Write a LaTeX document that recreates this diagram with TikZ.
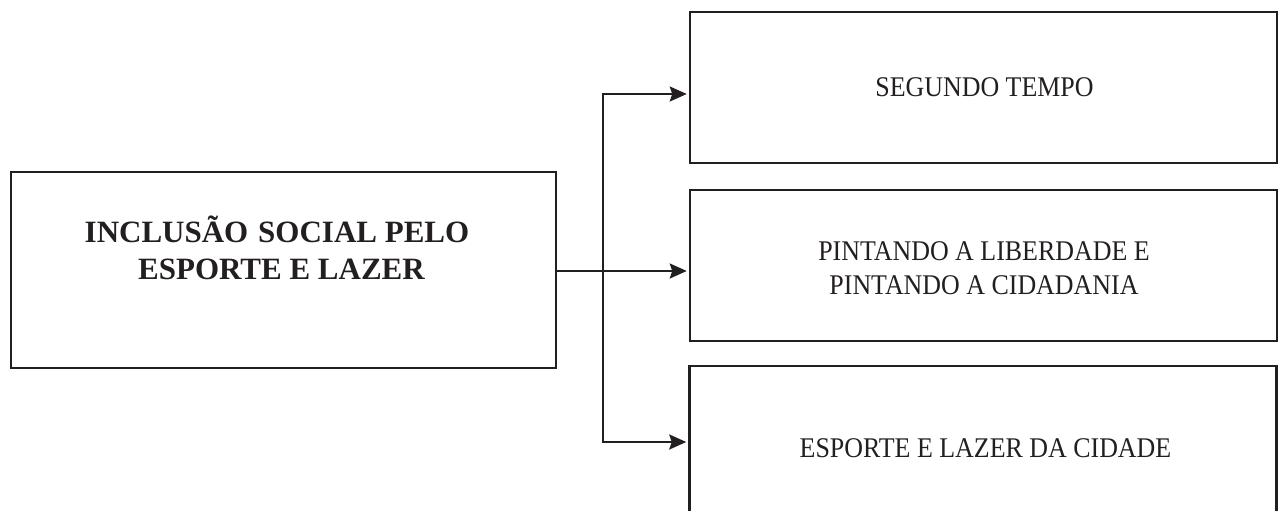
\documentclass[tikz,border=0pt]{standalone}
\usepackage{fontspec}
\setmainfont{Liberation Serif}
\newfontfamily\condfont[FakeStretch=0.91]{Liberation Serif}
\usetikzlibrary{arrows.meta}
\definecolor{ink}{RGB}{35,31,32}
\begin{document}
\begin{tikzpicture}[x=1pt,y=-1pt,
  box/.style={draw=ink, line width=2.5pt, rectangle, inner sep=0pt, minimum width=587pt, minimum height=151pt},
  boldtxt/.style={anchor=base, text=ink, inner sep=0pt, font=\fontsize{31}{37}\selectfont\bfseries},
  regtxt/.style={anchor=base, text=ink, inner sep=0pt, font=\fontsize{28.5}{34}\selectfont\condfont},
  conn/.style={draw=ink, line width=2pt},
  arr/.style={conn, -{Stealth[length=17pt,width=15pt,inset=2.5pt]}, shorten >=2pt}
]
\useasboundingbox (0,0) rectangle (1282,511);
\clip (0,0) rectangle (1282,511);
\fill[white] (0,0) rectangle (1282,511);

% left box
\node[box, minimum width=545pt, minimum height=196pt] (main) at (283.5,270) {};
\node[boldtxt] (mainA) at (277,242) {INCLUSÃO\hspace{0.32em}SOCIAL PELO};
\node[boldtxt] (mainB) at (281.5,279) {ESPORTE E LAZER};

% right boxes
\node[box] (top) at (983.5,87.5) {};
\node[box] (mid) at (983.5,265.5) {};
\node[box] (bot) at (983,441.5) {};

\node[regtxt] (topT) at (984.5,96) {SEGUNDO TEMPO};
\node[regtxt] (midA) at (984,260) {PINTANDO A LIBERDADE E};
\node[regtxt] (midB) at (984,294) {PINTANDO A CIDADANIA};
\node[regtxt] (botT) at (985.5,457) {ESPORTE E LAZER DA CIDADE};

% connectors
\coordinate (j1) at (603,94);
\coordinate (j2) at (603,271);
\coordinate (j3) at (603,442);
\draw[conn] (j1) -- (j3);
\draw[arr] (main.east |- j2) -- (mid.west |- j2);
\draw[arr] (j3) -- (j1) -- (top.west |- j1);
\draw[arr] (j1) -- (j3) -- (bot.west |- j3);
\end{tikzpicture}
\end{document}
